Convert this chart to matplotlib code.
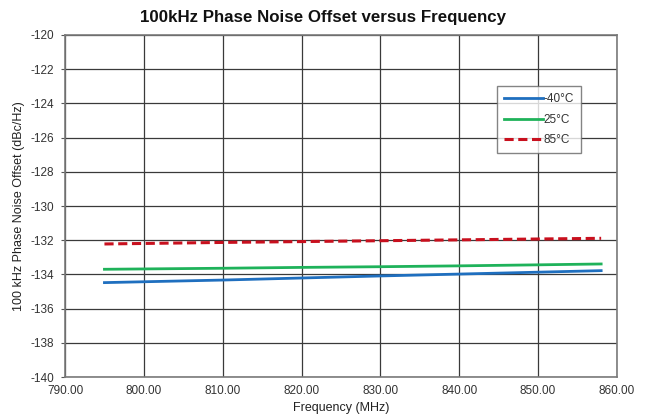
import matplotlib
matplotlib.use("Agg")
import matplotlib.pyplot as plt

plt.rcParams['font.family'] = ['Liberation Sans', 'DejaVu Sans']
plt.rcParams['axes.unicode_minus'] = False

freq = [795, 800, 810, 820, 830, 840, 850, 858]
pn_m40 = [-134.48, -134.43, -134.33, -134.21, -134.09, -133.98, -133.87, -133.78]
pn_25 = [-133.70, -133.68, -133.64, -133.59, -133.55, -133.50, -133.44, -133.39]
pn_85 = [-132.22, -132.19, -132.13, -132.08, -132.03, -131.98, -131.93, -131.89]
labels = ['-40°C', '25°C', '85°C']
xticks = [790, 800, 810, 820, 830, 840, 850, 860]
yticks = list(range(-140, -119, 2))

fig = plt.figure(figsize=(6.47, 4.19), dpi=100)
ax = fig.add_axes([0.1005, 0.1002, 0.853, 0.8163])

ax.plot(freq, pn_m40, color='#1f6fbf', lw=2.0, label=labels[0])
ax.plot(freq, pn_25, color='#1fb25a', lw=2.0, label=labels[1])
ax.plot(freq, pn_85, color='#c8101e', lw=2.2, ls=(0, (3, 1.5)), label=labels[2])

ax.set_xlim(790, 860)
ax.set_ylim(-140, -120)
ax.set_xticks(xticks)
ax.set_xticklabels([f"{v:.2f}" for v in xticks])
ax.set_yticks(yticks)
ax.grid(True, color='#3a3a3a', lw=0.9)
ax.set_axisbelow(True)
for s in ax.spines.values():
    s.set_color('#7a7a7a')
    s.set_linewidth(1.2)
ax.tick_params(axis='y', length=3, direction='out', color='#555555', labelsize=8.5, labelcolor='#333333', pad=5)
ax.tick_params(axis='x', length=0, labelsize=8.5, labelcolor='#333333', pad=6)

ax.set_xlabel('Frequency (MHz)', fontsize=9, color='#222222', labelpad=3)
ax.set_ylabel('100 kHz Phase Noise Offset (dBc/Hz)', fontsize=9, color='#222222', labelpad=4)
fig.text(0.5, 0.958, '100kHz Phase Noise Offset versus Frequency', ha='center', va='center',
         fontsize=12.2, fontweight='bold', color='#111111')

leg = ax.legend(loc='upper left', bbox_to_anchor=(0.783, 0.85), fontsize=8.5, frameon=True,
                fancybox=False, handlelength=3.3, handletextpad=0.0, borderpad=0.6,
                labelspacing=0.7, borderaxespad=0)
leg.get_frame().set_edgecolor('#666666')
leg.get_frame().set_linewidth(1.0)
for t in leg.get_texts():
    t.set_color('#333333')

fig.savefig('out.png', dpi=100)
